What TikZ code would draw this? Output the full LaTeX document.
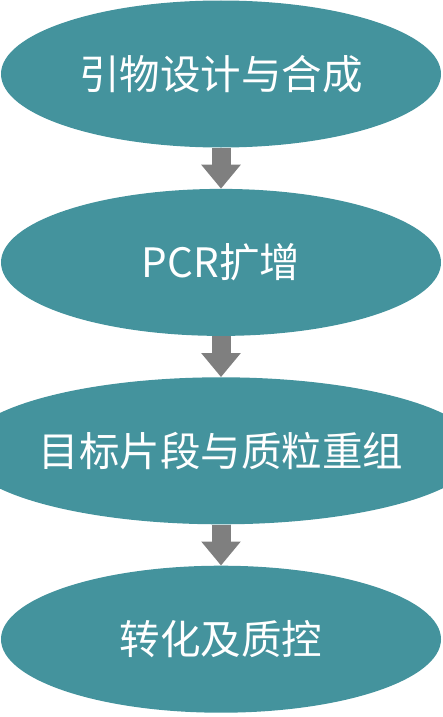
\documentclass[tikz,border=0pt]{standalone}
\usepackage{fontspec}
\newfontfamily\cjk{Noto Sans CJK SC}
\usepackage{tikz}
\usetikzlibrary{arrows.meta, positioning, shapes.geometric}
\definecolor{tikzteal}{HTML}{44939D}
\definecolor{tikzgray}{HTML}{7F7F7F}

\begin{document}
\begin{tikzpicture}[
      node distance=41pt,
      stepnode/.style={ellipse, fill=tikzteal, draw=none, minimum width=440pt, minimum height=147pt, inner sep=0pt, align=center, text=white, font=\cjk\fontsize{40.5}{48}\selectfont},
      flowarrow/.style={-{Triangle[width=38pt, length=24pt]}, line width=19pt, tikzgray, shorten >=0pt}
  ]
    \useasboundingbox (0,0) rectangle (442pt,-717pt);

    \node[stepnode] (s1) at (221pt,-74pt) {引物设计与合成};
    \node[stepnode, below=of s1] (s2) {PCR扩增};
    \node[stepnode, below=of s2] (s3) {目标片段与质粒重组};
    \node[stepnode, below=of s3] (s4) {转化及质控};

    \draw[flowarrow] (s1) -- (s2);
    \draw[flowarrow] (s2) -- (s3);
    \draw[flowarrow] (s3) -- (s4);
  \end{tikzpicture}
\end{document}
